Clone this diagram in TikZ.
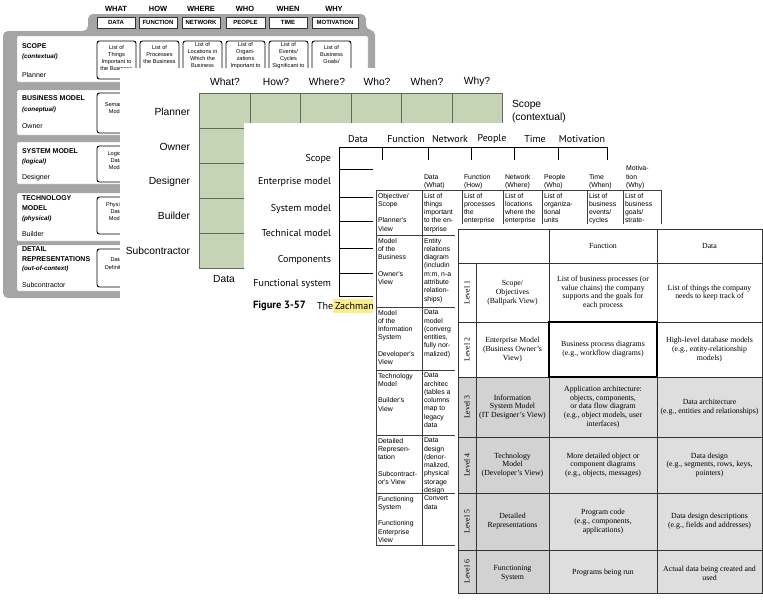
\documentclass[tikz,border=0pt]{standalone}
\usepackage{fontspec}
\setmainfont{Liberation Serif}
\newfontfamily\helv{Liberation Sans}
\newfontfamily\ptsans{PT Sans}
\definecolor{cardgray}{RGB}{165,165,165}
\definecolor{sage}{RGB}{196,212,180}
\definecolor{sageline}{RGB}{95,105,92}
\definecolor{shadeA}{RGB}{210,210,210}
\definecolor{shadeB}{RGB}{222,222,222}
\definecolor{marker}{RGB}{250,238,140}
\tikzset{
  rowpanel/.style={fill=white, draw=black!35, line width=0.4pt, rounded corners=1pt},
  cellbox/.style={draw=black, fill=white, line width=0.9pt, rounded corners=2.5pt},
  tabbox/.style={draw=black!80, fill=white, line width=0.5pt},
  cardtxt/.style={font=\helv\fontsize{7}{8}\selectfont, anchor=west},
  cardhead/.style={font=\helv\bfseries\fontsize{7}{8}\selectfont, anchor=west},
  cardnote/.style={font=\helv\bfseries\itshape\fontsize{6.3}{7}\selectfont, anchor=west},
  tabword/.style={font=\helv\bfseries\fontsize{7.5}{8}\selectfont},
  tabname/.style={font=\helv\bfseries\fontsize{6}{7}\selectfont},
  boxtxt/.style={font=\helv\fontsize{5.6}{7.3}\selectfont, align=center, anchor=north},
  greentxt/.style={font=\helv\fontsize{10.3}{13}\selectfont},
  greengrid/.style={draw=sageline, line width=0.7pt},
  zachtxt/.style={font=\ptsans\fontsize{10}{11}\selectfont},
  zachline/.style={draw=black, line width=0.9pt},
  smalltxt/.style={font=\helv\fontsize{6.9}{8.3}\selectfont, align=left, anchor=north west},
  headtxt/.style={font=\helv\fontsize{6.9}{8.3}\selectfont, align=left, anchor=south west},
  thinline/.style={draw=black!75, line width=0.5pt},
  leveltxt/.style={font=\fontsize{7.8}{8.8}\selectfont, align=center},
  levelline/.style={draw=black!80, line width=0.6pt}
}
\begin{document}
\begin{tikzpicture}[y=1pt, x=1pt, yscale=-1, inner sep=0pt, outer sep=0pt]
\useasboundingbox (0,0) rectangle (763,600);

% back card, framework poster
\path[fill=cardgray, rounded corners=5pt] (3,298) -- (3,31) -- (88,31) -- (88,14)
  -- (366,14) -- (366,30) -- (375,30) -- (375,298) -- cycle;
\path (116,9) node[tabword] (wWhat) {WHAT};
\path (158,9) node[tabword] (wHow) {HOW};
\path (201,9) node[tabword] (wWhere) {WHERE};
\path (245,9) node[tabword] (wWho) {WHO};
\path (288,9) node[tabword] (wWhen) {WHEN};
\path (334,9) node[tabword] (wWhy) {WHY};
\path[tabbox] (97,17) rectangle (135,28);
\path[tabbox] (139,17) rectangle (177,28);
\path[tabbox] (182,17) rectangle (220,28);
\path[tabbox] (226,17) rectangle (265,28);
\path[tabbox] (269,17) rectangle (307,28);
\path[tabbox] (312,17) rectangle (358,28);
\path (116,22.5) node[tabname] (tData) {DATA};
\path (158,22.5) node[tabname] (tFunction) {FUNCTION};
\path (201,22.5) node[tabname] (tNetwork) {NETWORK};
\path (245.5,22.5) node[tabname] (tPeople) {PEOPLE};
\path (288,22.5) node[tabname] (tTime) {TIME};
\path (335,22.5) node[tabname] (tMotivation) {MOTIVATION};

\path[rowpanel] (17,36) rectangle (368,82);
\path[rowpanel] (17,90) rectangle (368,135);
\path[rowpanel] (17,142) rectangle (368,184);
\path[rowpanel] (17,193) rectangle (368,241);
\path[rowpanel] (17,245) rectangle (368,291);

\path (22,46) node[cardhead] (txtScope) {SCOPE};
\path (22,57) node[cardnote] (txtContextual) {(contextual)};
\path (22,75) node[cardtxt] (txtPlanner) {Planner};
\path (22,98) node[cardhead] (txtBusiness) {BUSINESS MODEL};
\path (22,110) node[cardnote] (txtConeptual) {(coneptual)};
\path (22,126) node[cardtxt] (txtOwner) {Owner};
\path (22,151) node[cardhead] (txtSystem) {SYSTEM MODEL};
\path (22,162) node[cardnote] (txtLogical) {(logical)};
\path (22,178) node[cardtxt] (txtDesigner) {Designer};
\path (22,198) node[cardhead] (txtTechnology) {TECHNOLOGY};
\path (22,208) node[cardhead] (txtModel) {MODEL};
\path (22,219) node[cardnote] (txtPhysical) {(physical)};
\path (22,234) node[cardtxt] (txtBuilder) {Builder};
\path (22,249) node[cardhead] (txtDetail) {DETAIL};
\path (22,259) node[cardhead] (txtRepresentations) {REPRESENTATIONS};
\path (22,269) node[cardnote] (txtOutOfContext) {(out-of-context)};
\path (22,285) node[cardtxt] (txtSubcontractor) {Subcontractor};

\path[cellbox] (97,41) rectangle (136,79);
\path[cellbox] (140,41) rectangle (179,79);
\path[cellbox] (183,41) rectangle (222,79);
\path[cellbox] (226,41) rectangle (265,79);
\path[cellbox] (269,41) rectangle (308,79);
\path[cellbox] (312,41) rectangle (351,79);
\path[cellbox] (97,93) rectangle (136,133);
\path[cellbox] (97,146) rectangle (136,182);
\path[cellbox] (97,197) rectangle (136,234);
\path[cellbox] (97,249) rectangle (136,287);
\path (116.5,45) node[boxtxt] (boxThings) {List of\\Things\\Important to\\the Business};
\path (159.5,45) node[boxtxt] (boxProcesses) {List of\\Processes\\the Business};
\path (202.5,42) node[boxtxt] (boxLocations) {List of\\Locations in\\Which the\\Business};
\path (245.5,42) node[boxtxt] (boxOrganizations) {List of\\Organi-\\zations\\Important to};
\path (288.5,42) node[boxtxt] (boxEvents) {List of\\Events/\\Cycles\\Significant to};
\path (331.5,45) node[boxtxt] (boxGoals) {List of\\Business\\Goals/};
\path (116.5,102) node[boxtxt] (boxSemantic) {Semantic\\Model};
\path (116.5,151) node[boxtxt] (boxLogical) {Logical\\Data\\Model};
\path (116.5,202) node[boxtxt] (boxPhysical) {Physical\\Data\\Model};
\path (116.5,258) node[boxtxt] (boxDefinition) {Data\\Definition};

% second card, green grid
\path[fill=white] (120,68) rectangle (578,302);
\path (225,82) node[greentxt] (gWhat) {What?};
\path (276,82) node[greentxt] (gHow) {How?};
\path (327,82) node[greentxt] (gWhere) {Where?};
\path (377,82) node[greentxt] (gWho) {Who?};
\path (427,82) node[greentxt] (gWhen) {When?};
\path (477,82) node[greentxt] (gWhy) {Why?};
\path[fill=sage, greengrid] (199,93) rectangle (502,268);
\path[greengrid] (250,93) -- (250,268);
\path[greengrid] (300,93) -- (300,268);
\path[greengrid] (351,93) -- (351,268);
\path[greengrid] (401,93) -- (401,268);
\path[greengrid] (452,93) -- (452,268);
\path[greengrid] (199,128) -- (502,128);
\path[greengrid] (199,163) -- (502,163);
\path[greengrid] (199,198) -- (502,198);
\path[greengrid] (199,233) -- (502,233);
\path (190,112) node[greentxt, anchor=east] (gPlanner) {Planner};
\path (190,147) node[greentxt, anchor=east] (gOwner) {Owner};
\path (190,182) node[greentxt, anchor=east] (gDesigner) {Designer};
\path (190,216) node[greentxt, anchor=east] (gBuilder) {Builder};
\path (190,251) node[greentxt, anchor=east] (gSubcontractor) {Subcontractor};
\path (224,279) node[greentxt] (gData) {Data};
\path (512,111) node[greentxt, align=left, anchor=west] (gScope) {Scope\\(contextual)};

% third card, figure 3-57
\path[fill=white] (244,123) rectangle (628,320);
\path (358,139) node[zachtxt] (zData) {Data};
\path (406,139) node[zachtxt] (zFunction) {Function};
\path (450,139) node[zachtxt] (zNetwork) {Network};
\path (492,139) node[zachtxt] (zPeople) {People};
\path (535,139) node[zachtxt] (zTime) {Time};
\path (582,139) node[zachtxt] (zMotivation) {Motivation};
\path[zachline] (339,296) -- (339,147) -- (607,147);
\path[zachline] (382,147) -- (382,160);
\path[zachline] (428,147) -- (428,160);
\path[zachline] (471,147) -- (471,160);
\path[zachline] (514,147) -- (514,160);
\path[zachline] (558,147) -- (558,160);
\path[zachline] (607,147) -- (607,160);
\path[zachline] (339,169) -- (373,169);
\path[zachline] (339,197) -- (373,197);
\path[zachline] (339,221) -- (373,221);
\path[zachline] (339,248) -- (373,248);
\path[zachline] (339,273) -- (373,273);
\path[zachline] (339,296) -- (373,296);
\path (331,159) node[zachtxt, anchor=east] (zScope) {Scope};
\path (331,182) node[zachtxt, anchor=east] (zEnterprise) {Enterprise model};
\path (331,209) node[zachtxt, anchor=east] (zSystem) {System model};
\path (331,233) node[zachtxt, anchor=east] (zTechnical) {Technical model};
\path (331,260) node[zachtxt, anchor=east] (zComponents) {Components};
\path (331,284) node[zachtxt, anchor=east] (zFunctional) {Functional system};
\path[fill=marker] (333,299) rectangle (374,313);
\path (253,306) node[font=\ptsans\bfseries\fontsize{10.5}{12}\selectfont, anchor=west] (zFigure) {Figure 3-57};
\path (317,306) node[zachtxt, anchor=west] (zThe) {The};
\path (335,306) node[zachtxt, anchor=west] (zZachman) {Zachman};

% fourth card, framework table
\path[fill=white] (373,160) rectangle (666,550);
\path (424,189) node[headtxt] (hData) {Data\\(What)};
\path (464,189) node[headtxt] (hFunction) {Function\\(How)};
\path (505,189) node[headtxt] (hNetwork) {Network\\(Where)};
\path (544,189) node[headtxt] (hPeople) {People\\(Who)};
\path (589,189) node[headtxt] (hTime) {Time\\(When)};
\path (626,189) node[headtxt] (hMotivation) {Motiva-\\tion\\(Why)};
\path[thinline] (376,190) -- (661,190);
\path[thinline] (376,235) -- (661,235);
\path[thinline] (376,190) -- (376,545) -- (462,545);
\path[thinline] (422,190) -- (422,545);
\path[thinline] (462,190) -- (462,545);
\path[thinline] (503,190) -- (503,240);
\path[thinline] (542,190) -- (542,240);
\path[thinline] (587,190) -- (587,240);
\path[thinline] (623,190) -- (623,240);
\path[thinline] (661,190) -- (661,240);
\path[thinline] (376,307) -- (462,307);
\path[thinline] (376,370) -- (462,370);
\path[thinline] (376,435) -- (462,435);
\path[thinline] (376,493) -- (462,493);
\path (378,193) node[smalltxt] (cObjective) {Objective/\\Scope\\[8.3pt]Planner's\\View};
\path (378,238) node[smalltxt] (cBusiness) {Model\\of the\\Business\\[8.3pt]Owner's\\View};
\path (378,310) node[smalltxt] (cInformation) {Model\\of the\\Information\\System\\[8.3pt]Developer's\\View};
\path (378,373) node[smalltxt] (cTechnology) {Technology\\Model\\[8.3pt]Builder's\\View};
\path (378,438) node[smalltxt] (cDetailed) {Detailed\\Represen-\\tation\\[8.3pt]Subcontract-\\or's View};
\path (378,496) node[smalltxt] (cFunctioning) {Functioning\\System\\[8.3pt]Functioning\\Enterprise\\View};
\path (424,193) node[smalltxt] (dThings) {List of\\things\\important\\to the en-\\terprise};
\path (424,238) node[smalltxt] (dEntity) {Entity\\relations\\diagram\\(includin\\m:m, n-a\\attribute\\relation-\\ships)};
\path (424,310) node[smalltxt] (dModel) {Data\\model\\(converg\\entities,\\fully nor-\\malized)};
\path (424,373) node[smalltxt] (dArchitecture) {Data\\architec\\(tables a\\columns\\map to\\legacy\\data};
\path (424,438) node[smalltxt] (dDesign) {Data\\design\\(denor-\\malized,\\physical\\storage\\design};
\path (424,496) node[smalltxt] (dConvert) {Convert\\data};
\path (464,193) node[smalltxt] (fProcesses) {List of\\processes\\the\\enterprise};
\path (505,193) node[smalltxt] (nLocations) {List of\\locations\\where the\\enterprise};
\path (544,193) node[smalltxt] (pUnits) {List of\\organiza-\\tional\\units};
\path (589,193) node[smalltxt] (tEvents) {List of\\business\\events/\\cycles};
\path (625,193) node[smalltxt] (mGoals) {List of\\business\\goals/\\strate-};

% front card, levels table
\path[fill=white] (455,224) rectangle (763,600);
\path[fill=shadeA] (458,377) rectangle (549,593);
\path[fill=shadeB] (549,377) rectangle (762,593);
\path[levelline] (458,229) rectangle (762,593);
\path[levelline] (458,263) -- (762,263);
\path[levelline] (458,322) -- (762,322);
\path[levelline] (458,377) -- (762,377);
\path[levelline] (458,437) -- (762,437);
\path[levelline] (458,493) -- (762,493);
\path[levelline] (458,550) -- (762,550);
\path[levelline] (476,263) -- (476,593);
\path[levelline] (549,229) -- (549,593);
\path[levelline] (657,229) -- (657,593);
\path[draw=black, line width=1.5pt] (549,322) rectangle (657,377);
\path (603,246) node[leveltxt] (lFunction) {Function};
\path (709.5,246) node[leveltxt] (lData) {Data};
\path (467,292.5) node[leveltxt, rotate=90] (lvOne) {Level 1};
\path (467,349.5) node[leveltxt, rotate=90] (lvTwo) {Level 2};
\path (467,407) node[leveltxt, rotate=90] (lvThree) {Level 3};
\path (467,465) node[leveltxt, rotate=90] (lvFour) {Level 4};
\path (467,521.5) node[leveltxt, rotate=90] (lvFive) {Level 5};
\path (467,571.5) node[leveltxt, rotate=90] (lvSix) {Level 6};
\path (512.5,292.5) node[leveltxt] (aScope) {Scope/\\Objectives\\(Ballpark View)};
\path (512.5,349.5) node[leveltxt] (aEnterprise) {Enterprise Model\\(Business Owner's\\View)};
\path (512.5,407) node[leveltxt] (aInformation) {Information\\System Model\\(IT Designer's View)};
\path (512.5,465) node[leveltxt] (aTechnology) {Technology\\Model\\(Developer's View)};
\path (512.5,521.5) node[leveltxt] (aDetailed) {Detailed\\Representations};
\path (512.5,573) node[leveltxt] (aFunctioning) {Functioning\\System};
\path (603,292.5) node[leveltxt] (bProcesses) {List of business processes (or\\value chains) the company\\supports and the goals for\\each process};
\path (603,349.5) node[leveltxt] (bDiagrams) {Business process diagrams\\(e.g., workflow diagrams)};
\path (603,407) node[leveltxt] (bArchitecture) {Application architecture:\\objects, components,\\or data flow diagram\\(e.g., object models, user\\interfaces)};
\path (603,465) node[leveltxt] (bDetailed) {More detailed object or\\component diagrams\\(e.g., objects, messages)};
\path (603,521.5) node[leveltxt] (bCode) {Program code\\(e.g., components,\\applications)};
\path (603,573) node[leveltxt] (bRun) {Programs being run};
\path (709.5,292.5) node[leveltxt] (cThings) {List of things the company\\needs to keep track of};
\path (709.5,349.5) node[leveltxt] (cHighLevel) {High-level database models\\(e.g., entity-relationship\\models)};
\path (709.5,407) node[leveltxt] (cArchitecture) {Data architecture\\(e.g., entities and relationships)};
\path (709.5,465) node[leveltxt] (cDesign) {Data design\\(e.g., segments, rows, keys,\\pointers)};
\path (709.5,521.5) node[leveltxt] (cDescriptions) {Data design descriptions\\(e.g., fields and addresses)};
\path (709.5,573) node[leveltxt] (cActual) {Actual data being created and\\used};

\end{tikzpicture}
\end{document}
